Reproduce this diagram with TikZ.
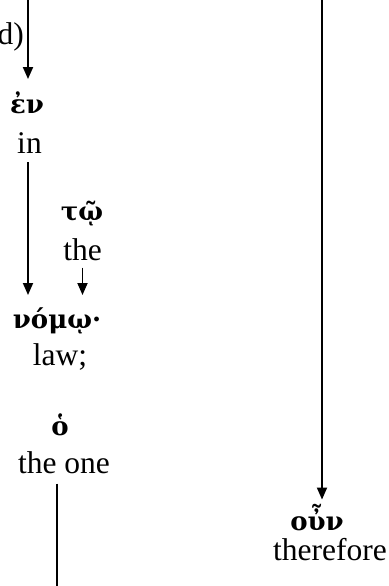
\documentclass[tikz,border=0pt]{standalone}
\usepackage{fontspec}
\setmainfont{Liberation Serif}
\newfontfamily\grk{DejaVu Serif}
\usetikzlibrary{arrows.meta}
\tikzset{
  gloss/.style={inner sep=0pt, anchor=base, font=\fontsize{31.5}{36}\selectfont},
  greek/.style={inner sep=0pt, anchor=base, font=\grk\bfseries\fontsize{26}{30}\selectfont},
  arr/.style={line width=1.8pt, -{Triangle[length=12pt,width=10pt]}},
  ln/.style={line width=1.8pt}
}
\begin{document}
\begin{tikzpicture}[x=1pt,y=-1pt]
\useasboundingbox (0,0) rectangle (388,586);
% left column
\node[gloss, anchor=base east] (dtxt) at (24,45) {d)};
\coordinate (top1) at (28,0);
\node[greek] (en) at (27,113) {ἐν};
\node[gloss] (in) at (29.5,153) {in};
\node[greek] (tw) at (82,220) {τῷ};
\node[gloss] (the1) at (82.5,260) {the};
\node[greek] (nomw) at (57,328) {νόμῳ·};
\node[gloss] (law) at (60,365) {law;};
\node[greek] (ho) at (60,435) {ὁ};
\node[gloss] (theone) at (64,473) {the one};
\coordinate (bot1) at (57,586);
% right column
\coordinate (top2) at (322,0);
\node[greek] (oun) at (317,530) {οὖν};
\node[gloss] (therefore) at (330,560) {therefore};
% connectors
\draw[arr, shorten >=12pt] (top1) -- (top1 |- en.north);
\draw[arr, shorten <=9pt, shorten >=12pt] (top1 |- in.south) -- (top1 |- nomw.north);
\draw[arr, shorten <=7pt, shorten >=12pt] (the1.south) -- (the1.south |- nomw.north);
\draw[ln, shorten <=10pt] (bot1 |- theone.south) -- (bot1);
\draw[arr, shorten >=4pt] (top2) -- (top2 |- oun.north);
\end{tikzpicture}
\end{document}
